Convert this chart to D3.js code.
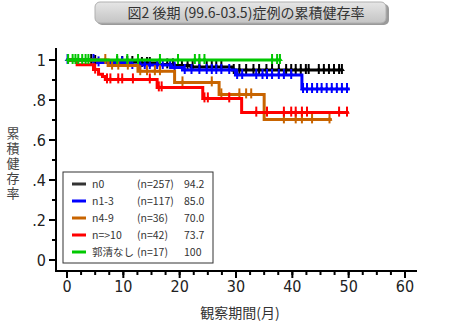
<!DOCTYPE html>
<html><head><meta charset="utf-8">
<script src="https://cdn.jsdelivr.net/npm/d3@7"></script>
<style>body{margin:0;background:#fff}</style>
</head><body><svg id="c" width="475" height="323"></svg>
<script>
const titleText = "図2 後期 (99.6-03.5)症例の累積健存率";
const xLabel = "観察期間(月)";
const yLabel = "累積健存率";
const xTicks = [0,10,20,30,40,50,60];
const yTicks = [0,0.2,0.4,0.6,0.8,1];
const yTickLabels = ["0",".2",".4",".6",".8","1"];

const groupNames = ["n0","n1-3","n4-9","n=>10","郭清なし"];
const groupN = ["(n=257)","(n=117)","(n=36)","(n=42)","(n=17)"];
const groupRates = ["94.2","85.0","70.0","73.7","100"];
const groupColors = ["#000000","#0000ff","#c86400","#ff0000","#00c800"];
const legendColors = ["#333333","#0000ff","#c86400","#ff0000","#00c800"];

// Kaplan-Meier steps [time, survival] and censor times, end time
const n0Steps = [[0,1],[4.5,0.995],[8,0.99],[13,0.985],[16,0.978],[19,0.972],[22,0.965],[29.4,0.95]];
const n0Censor = [4.3,5.0,8.9,9.8,10.7,11.6,13.3,14.2,14.7,16.5,17.8,18.8,20.4,21.4,22.3,23.5,24.8,25.7,26.5,27.4,29.6,30.6,31.8,33.1,34.1,35.4,36.4,37.6,38.9,39.8,40.6,41.5,42.4,42.9,44.7,45.6,46.5,47.4,48.3,48.8];
const n0End = 48.9;

const n13Steps = [[0,1],[5.4,0.988],[11.2,0.975],[18.5,0.963],[20.5,0.95],[29.9,0.925],[41.7,0.855]];
const n13Censor = [0.1,4.7,5.6,9.8,11.6,13.0,13.8,14.7,16.0,17.0,18.3,19.1,20.9,22.1,23.5,24.8,25.7,26.5,27.4,28.8,30.2,31.1,33.6,34.7,35.5,36.4,37.6,38.5,39.8,41.9,42.6,43.5,44.4,45.2,46.1,47.0,47.9,48.8,49.7];
const n13End = 50.2;

const n49Steps = [[0,1],[7.3,0.972],[12.6,0.944],[19.1,0.888],[27.0,0.828],[35.0,0.703]];
const n49Censor = [6.8,8.0,9.1,10.8,13.0,14.2,15.6,16.5,20.5,25.7,27.4,30.6,31.8,32.7,38.5,40.6,41.7,43.5,46.6];
const n49End = 47.0;

const n10Steps = [[0,1],[1.8,0.976],[4.7,0.952],[5.6,0.929],[6.3,0.917],[6.8,0.903],[16.0,0.863],[24.1,0.808],[31.0,0.737]];
const n10Censor = [5.0,7.1,7.7,9.1,9.8,11.7,14.7,16.3,16.8,24.4,25.0,28.8,33.6,35.5,38.5,39.8,40.6,41.7,42.6,48.3,49.7];
const n10End = 50.0;

const noneSteps = [[0,1]];
const noneCensor = [0.2,1.0,1.5,2.0,2.7,3.3,3.8,8.9,10.7,12.6,16.5,19.7,22.7,23.5,24.4,36.4,37.3,37.8];
const noneEnd = 37.9;

const series = [
  {steps:n0Steps, censor:n0Censor, end:n0End, color:groupColors[0]},
  {steps:n13Steps, censor:n13Censor, end:n13End, color:groupColors[1]},
  {steps:n49Steps, censor:n49Censor, end:n49End, color:groupColors[2]},
  {steps:n10Steps, censor:n10Censor, end:n10End, color:groupColors[3]},
  {steps:noneSteps, censor:noneCensor, end:noneEnd, color:groupColors[4]}
];

const svg = d3.select("#c");
const x = d3.scaleLinear().domain([0,60]).range([67,405]);
const y = d3.scaleLinear().domain([0,1]).range([260,60]);
const numFont = "'Liberation Sans Narrow','DejaVu Sans Condensed',sans-serif";
const jpFont = "'Noto Sans CJK JP',sans-serif";

// Title box
const defs = svg.append("defs");
const g = defs.append("linearGradient").attr("id","tg").attr("x1",0).attr("x2",0).attr("y1",0).attr("y2",1);
g.append("stop").attr("offset","0").attr("stop-color","#e6e6e6");
g.append("stop").attr("offset","1").attr("stop-color","#c4c4c4");
svg.append("rect").attr("x",97).attr("y",4).attr("width",292).attr("height",21).attr("rx",5).attr("fill","#9a9a9a");
svg.append("rect").attr("x",95).attr("y",2).attr("width",291).attr("height",21).attr("rx",5)
  .attr("fill","url(#tg)").attr("stroke","#b0b0b0").attr("stroke-width",1);
svg.append("text").attr("x",246).attr("y",18).attr("text-anchor","middle")
  .attr("font-family",jpFont).attr("font-size",14).attr("fill","#333").text(titleText);

// Axes lines
svg.append("line").attr("x1",56).attr("x2",56).attr("y1",48).attr("y2",272).attr("stroke","#000").attr("stroke-width",2);
svg.append("line").attr("x1",55).attr("x2",417).attr("y1",271).attr("y2",271).attr("stroke","#000").attr("stroke-width",2);

// Y ticks
const yMinor = d3.range(0,1.0001,0.1);
svg.selectAll(".ymt").data(yMinor).enter().append("line")
  .attr("x1",52).attr("x2",56).attr("y1",d=>y(d)).attr("y2",d=>y(d)).attr("stroke","#000").attr("stroke-width",2);
svg.selectAll(".yMt").data(yTicks).enter().append("line")
  .attr("x1",49).attr("x2",56).attr("y1",d=>y(d)).attr("y2",d=>y(d)).attr("stroke","#000").attr("stroke-width",2);
svg.selectAll(".ytl").data(yTicks).enter().append("text")
  .attr("x",46).attr("y",d=>y(d)+6).attr("text-anchor","end")
  .attr("font-family",numFont).attr("font-size",16).attr("fill","#222")
  .text((d,i)=>yTickLabels[i]);

// X ticks
const xMinor = d3.range(0,60.001,2.5);
svg.selectAll(".xmt").data(xMinor).enter().append("line")
  .attr("x1",d=>x(d)).attr("x2",d=>x(d)).attr("y1",271).attr("y2",275).attr("stroke","#000").attr("stroke-width",2);
svg.selectAll(".xMt").data(xTicks).enter().append("line")
  .attr("x1",d=>x(d)).attr("x2",d=>x(d)).attr("y1",271).attr("y2",278).attr("stroke","#000").attr("stroke-width",2);
svg.selectAll(".xtl").data(xTicks).enter().append("text")
  .attr("x",d=>x(d)).attr("y",292).attr("text-anchor","middle")
  .attr("font-family",numFont).attr("font-size",16).attr("fill","#222")
  .text(d=>d);

// Axis labels
svg.append("text").attr("x",240).attr("y",318).attr("text-anchor","middle")
  .attr("font-family",jpFont).attr("font-size",14).attr("fill","#333").text(xLabel);
svg.append("text").attr("x",13).attr("y",127)
  .attr("writing-mode","vertical-rl").attr("letter-spacing",2)
  .attr("font-family",jpFont).attr("font-size",13).attr("fill","#444").text(yLabel);

// Legend
svg.append("rect").attr("x",63).attr("y",172).attr("width",150).attr("height",91)
  .attr("fill","#fff").attr("stroke","#333").attr("stroke-width",1);
const rowY = i => 184 + i*17;
groupNames.forEach((nm,i)=>{
  svg.append("line").attr("x1",72).attr("x2",86).attr("y1",rowY(i)).attr("y2",rowY(i))
    .attr("stroke",legendColors[i]).attr("stroke-width",3);
  svg.append("text").attr("x",92).attr("y",rowY(i)+4).attr("font-family",jpFont).attr("font-size",10.5).attr("fill","#333").text(nm);
  svg.append("text").attr("x",137).attr("y",rowY(i)+4).attr("font-family",jpFont).attr("font-size",10.5).attr("fill","#333").text(groupN[i]);
  svg.append("text").attr("x",184).attr("y",rowY(i)+4).attr("font-family",jpFont).attr("font-size",10.5).attr("fill","#333").text(groupRates[i]);
});

// Curves
function survAt(steps, t){
  let s = steps[0][1];
  for (const st of steps){ if (st[0] <= t) s = st[1]; }
  return s;
}
const line = d3.line().x(d=>x(d[0])).y(d=>y(d[1])).curve(d3.curveStepAfter);
series.forEach(se=>{
  const pts = se.steps.concat([[se.end, se.steps[se.steps.length-1][1]]]);
  svg.append("path").attr("d",line(pts)).attr("fill","none")
    .attr("stroke",se.color).attr("stroke-width",3);
  const gc = svg.append("g");
  se.censor.forEach(c=>{
    const cx = x(c), cy = y(survAt(se.steps,c));
    gc.append("path").attr("d",`M${cx},${cy-6}V${cy+4}`).attr("stroke",se.color).attr("stroke-width",2).attr("fill","none");
    gc.append("path").attr("d",`M${cx-3},${cy+1}L${cx},${cy-3}L${cx+3},${cy+1}Z`).attr("fill",se.color);
  });
});
</script></body></html>
